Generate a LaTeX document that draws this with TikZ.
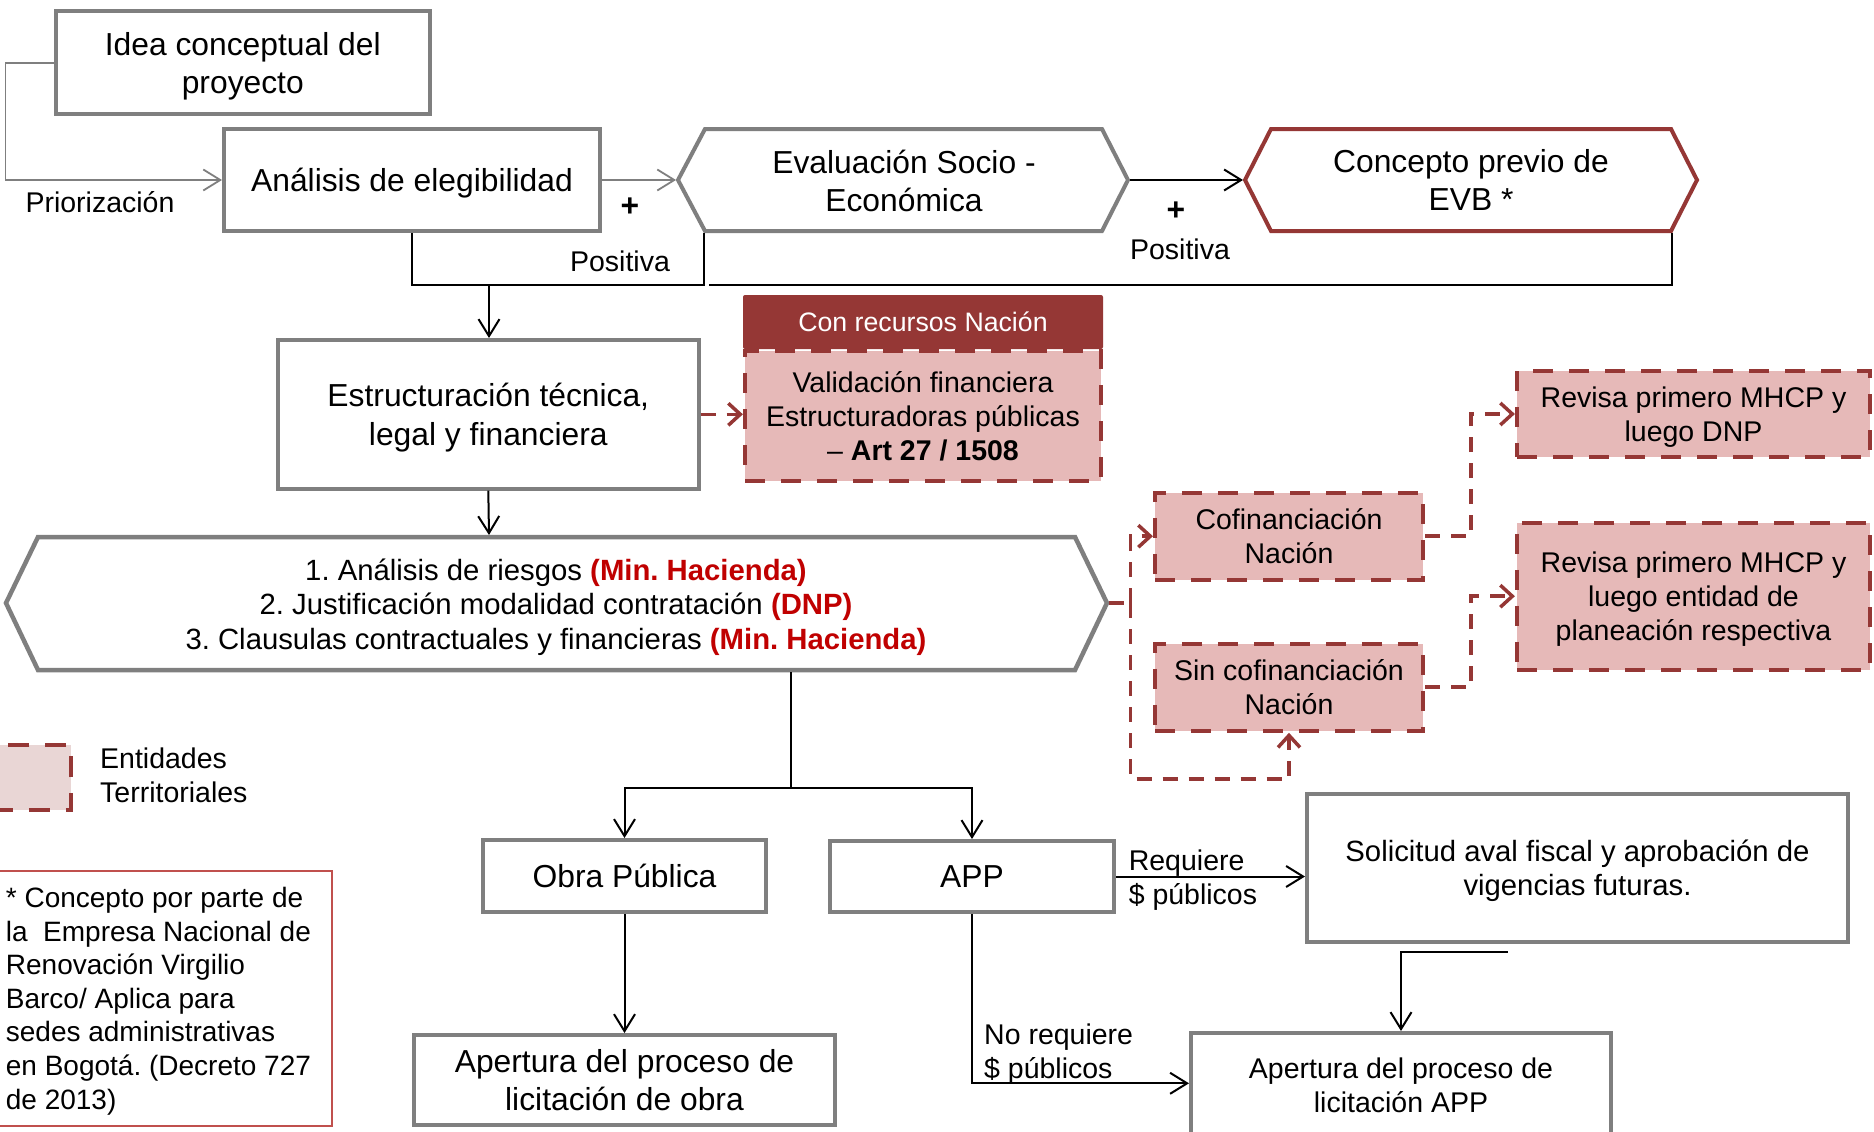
\documentclass[tikz,border=0pt]{standalone}
\usepackage{fontspec}
\setmainfont{Liberation Sans}
\usetikzlibrary{arrows.meta}
\definecolor{gr}{HTML}{7F7F7F}
\definecolor{dred}{HTML}{953735}
\definecolor{pinkf}{HTML}{E6B9B8}
\definecolor{lpink}{HTML}{E9D6D5}
\definecolor{txtred}{HTML}{C00000}
\definecolor{notered}{HTML}{C0504D}
\newcommand\myfL{\fontsize{31.8}{38.3}\selectfont}
\newcommand\myfM{\fontsize{28.5}{34}\selectfont}
\newcommand\myfH{\fontsize{29.3}{34.5}\selectfont}
\newcommand\myfS{\fontsize{26.7}{32}\selectfont}
\newcommand\myfN{\fontsize{28}{33.6}\selectfont}
\frenchspacing
\tikzset{
  gbox/.style={draw=gr, line width=4pt, fill=white, inner sep=0pt, align=center, rectangle, text depth=0pt},
  pbox/.style={draw=dred, line width=4.2pt, dash pattern=on 20pt off 16pt, fill=pinkf, inner sep=0pt, align=center, rectangle, text depth=0pt},
  fL/.style={font=\myfL},
  fM/.style={font=\myfM},
  lbl/.style={inner sep=0pt, font=\myfM, align=left},
  bcon/.style={draw=black, line width=2pt},
  barrow/.style={bcon, -{Straight Barb[length=17pt,width=21pt]}},
  garrow/.style={draw=gr, line width=1.8pt, -{Straight Barb[length=17pt,width=21pt]}},
  rcon/.style={draw=dred, line width=3.5pt, dash pattern=on 15pt off 11pt},
  rarrow/.style={rcon, -{Straight Barb[length=12pt,width=22pt]}},
  hexg/.style={draw=gr, line width=4pt, fill=white},
  hexr/.style={draw=dred, line width=4pt, fill=white},
}
\begin{document}
\begin{tikzpicture}[x=1pt,y=-1pt]
\useasboundingbox (0,0) rectangle (1874,1132);

% --- top row ---
\node[gbox, fL, minimum width=374pt, minimum height=103pt] (idea) at (242.8,62.7) {Idea conceptual del\\proyecto};
\node[gbox, fL, minimum width=376pt, minimum height=102pt] (anal) at (412,180) {Análisis de elegibilidad};

\draw[hexg] (678,180) -- (705,129) -- (1102,129) -- (1128,180) -- (1102,231) -- (705,231) -- cycle;
\coordinate (evalW) at (676,180);
\coordinate (evalE) at (1130,180);
\coordinate (evalSW) at (704,233);
\node[fL, align=center, inner sep=0pt] (eval) at (904,181) {Evaluación Socio -\\Económica};

\draw[hexr] (1245,180) -- (1271,129) -- (1671,129) -- (1697,180) -- (1671,231) -- (1271,231) -- cycle;
\coordinate (concW) at (1243,180);
\coordinate (concSE) at (1672,233);
\node[fL, align=center, inner sep=0pt] (conc) at (1471,180) {Concepto previo de\\EVB *};

\draw[garrow] (idea.west) -| (5.4,180) -- (anal.west);
\node[lbl] (prior) at (100,202) {Priorización};
\draw[garrow] (anal.east) -- (evalW);
\draw[barrow] (evalE) -- (concW);

\node[inner sep=0pt, font=\myfL] (plus1) at (630,207) {\textbf{+}};
\node[inner sep=0pt, font=\myfL] (plus2) at (1176,211) {\textbf{+}};
\node[lbl] (pos1) at (620,261) {Positiva};
\node[lbl] (pos2) at (1180,249) {Positiva};

\draw[bcon] (anal.south) -- (412,285) -- (704,285) -- (evalSW);
\draw[bcon] (concSE) -- (1672,285) -- (709,285);
\draw[barrow] (489,285) -- (489,338);

% --- structuring ---
\node[gbox, fL, minimum width=420.7pt, minimum height=148.7pt] (estr) at (488.3,414.3) {Estructuración técnica,\\legal y financiera};

\node[pbox, font=\myfM, minimum width=356pt, minimum height=129.7pt] (valid) at (923,415.8) {Validación financiera\\Estructuradoras públicas\\– \textbf{Art 27 / 1508}};
\node[fill=dred, rounded corners=2pt, minimum width=360pt, minimum height=54pt, inner sep=0pt, text=white, font=\myfS] (head) at (923,322) {Con recursos Nación};

\draw[rarrow] (estr.east) -- (estr.east -| valid.west);

% --- main hexagon ---
\draw[hexg, line width=4.5pt] (6,603) -- (38,537) -- (1075,537) -- (1107,603) -- (1075,670) -- (38,670) -- cycle;
\coordinate (hexN) at (489,535);
\coordinate (hexE) at (1109,603);
\coordinate (hexS) at (791,672);
\node[font=\myfH, align=center, inner sep=0pt] (riesgos) at (556,607) {1. Análisis de riesgos \textcolor{txtred}{\textbf{(Min. Hacienda)}}\\2. Justificación modalidad contratación \textcolor{txtred}{\textbf{(DNP)}}\\3. Clausulas contractuales y financieras \textcolor{txtred}{\textbf{(Min. Hacienda)}}};
\draw[barrow] (estr.south) -- (hexN);

% --- territorial entities branch ---
\node[pbox, font=\myfM, minimum width=268pt, minimum height=87pt] (cofi) at (1289,536.2) {Cofinanciación\\Nación};
\node[pbox, font=\myfM, minimum width=268pt, minimum height=87pt] (sin) at (1289,687.2) {Sin cofinanciación\\Nación};
\node[pbox, font=\myfM, minimum width=353pt, minimum height=86pt] (revDNP) at (1693.5,414) {Revisa primero MHCP y\\luego DNP};
\node[pbox, font=\myfM, minimum width=353pt, minimum height=147pt] (revEnt) at (1693.5,596.2) {Revisa primero MHCP y\\luego entidad de\\planeación respectiva};

\draw[rcon] (hexE) -- (1130.5,603);
\draw[rarrow] (1130.5,603) |- (cofi.west);
\draw[rarrow] (1130.5,603) -- (1130.5,779) -| (sin.south);
\draw[rarrow] (cofi.east) -- (1471,536.2) |- (revDNP.west);
\draw[rarrow] (sin.east) -- (1471,687.2) |- (revEnt.west);

% --- legend ---
\node[draw=dred, line width=4.2pt, dash pattern=on 21pt off 16pt, fill=lpink, inner sep=0pt, minimum width=78.7pt, minimum height=65pt] (leg) at (31.3,777.2) {};
\node[lbl, anchor=west] (legtxt) at (100,775) {Entidades\\Territoriales};

% --- note ---
\node[draw=notered, line width=2pt, inner sep=0pt, minimum width=333pt, minimum height=254.7pt] (notebox) at (165.5,998.4) {};
\node[inner sep=0pt, font=\myfN, align=left, anchor=north west] (note) at (5.7,887) {* Concepto por parte de\\la\ \ Empresa Nacional de\\Renovación Virgilio\\Barco/ Aplica para\\sedes administrativas\\en Bogotá. (Decreto 727\\de 2013)};

% --- bottom ---
\node[gbox, fL, minimum width=283pt, minimum height=72pt] (obra) at (624.5,876) {Obra Pública};
\node[gbox, fL, minimum width=284pt, minimum height=71pt] (app) at (972,876.5) {APP};
\node[gbox, fL, minimum width=421pt, minimum height=89.7pt] (aperObra) at (624.5,1079.9) {Apertura del proceso de\\licitación de obra};
\node[gbox, font=\myfM, minimum width=420pt, minimum height=104.8pt] (aperAPP) at (1401,1085.4) {Apertura del proceso de\\licitación APP};
\node[gbox, font=\myfH, minimum width=541pt, minimum height=148.3pt] (solic) at (1577.5,867.9) {Solicitud aval fiscal y aprobación de\\vigencias futuras.};

\draw[bcon] (hexS) -- (791,788);
\draw[barrow] (791,788) -| (obra.north);
\draw[barrow] (791,788) -| (app.north);
\draw[barrow] (obra.south) -- (aperObra.north);
\draw[barrow] (app.east) -- (app.east -| solic.west);
\node[lbl, anchor=west] (req) at (1128.6,880) {Requiere\\\$ públicos};
\draw[barrow] (app.south) |- (aperAPP.west |- 0,1083.3);
\node[lbl, anchor=west] (noreq) at (984,1054.5) {No requiere\\\$ públicos};
\coordinate (solOut) at (1507.5,951.7);
\draw[barrow] (solOut) -| (aperAPP.north);
\end{tikzpicture}
\end{document}
